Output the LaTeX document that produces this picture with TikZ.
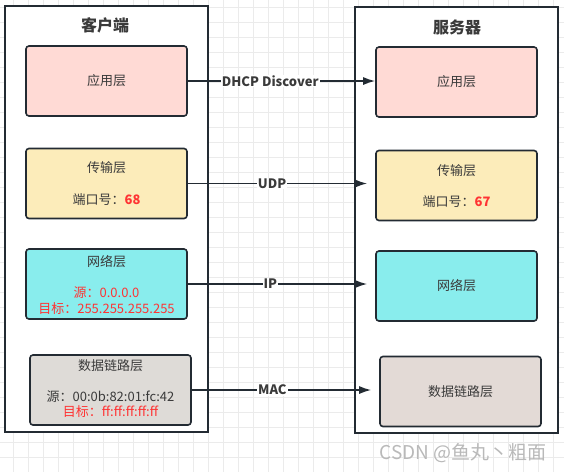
\documentclass[tikz,border=0pt]{standalone}
\usepackage{fontspec}
\setmainfont{Noto Sans CJK SC}
\usepackage{tikz}
\usetikzlibrary{arrows.meta}
\definecolor{edge}{HTML}{232B33}
\definecolor{txt}{HTML}{3A3A3A}
\definecolor{appfill}{HTML}{FFDAD5}
\definecolor{tranfill}{HTML}{FCECBA}
\definecolor{netfill}{HTML}{89EDED}
\definecolor{linkfill}{HTML}{DEDBD7}
\definecolor{slinkfill}{HTML}{E3DAD6}
\definecolor{hot}{HTML}{FF3333}
\definecolor{gridline}{HTML}{EBEBEB}

\begin{document}
\begin{tikzpicture}[x=1pt,y=-1pt,
    side/.style={draw=edge,line width=1.8pt,fill=white,minimum width=203pt,minimum height=426pt,inner sep=0pt},
    layer/.style={draw=edge,line width=1.6pt,rounded corners=3pt,minimum width=161pt,minimum height=70pt,inner sep=0pt},
    word/.style={text=txt,font=\fontsize{13}{15}\selectfont,inner sep=0pt},
    head/.style={text=txt,font=\fontsize{16}{18}\selectfont\bfseries,inner sep=0pt},
    msg/.style={fill=white,inner sep=1pt,text=txt,font=\fontsize{13}{15}\selectfont\bfseries},
    flow/.style={draw=edge,line width=1.6pt,-{Latex[length=12pt,width=8pt]}}]
                      \useasboundingbox (0,0) rectangle (564,472);
                      \fill[white] (0,0) rectangle (564,472);
                      \foreach \x in {13.3,28.3,...,563} \draw[gridline] (\x,0)--(\x,472);
                      \foreach \y in {7.3,22.3,...,471} \draw[gridline] (0,\y)--(564,\y);
                      % client side
                      \node[side](client)at(106.5,219){};
                      \node[head](ctitle)at(105,25){客户端};
                      \node[layer,fill=appfill](capp)at(106.5,81){};
                      \node[word](capptxt)at(capp){应用层};
                      \node[layer,fill=tranfill](ctran)at(106.5,183.5){};
                      \node[word](ctrantxt)at(106.5,168){传输层};
                      \node[word](cport)at(106.5,200){端口号：\textcolor{hot}{\bfseries 68}};
                      \node[layer,fill=netfill](cnet)at(106.5,284){};
                      \node[word](cnettxt)at(106.5,262){网络层};
                      \node[word,text=hot](csrcip)at(106.5,293){源：0.0.0.0};
                      \node[word,text=hot](cdstip)at(106.5,309){目标：255.255.255.255};
                      \node[layer,fill=linkfill](clink)at(110.5,390){};
                      \node[word](clinktxt)at(110.5,366){数据链路层};
                      \node[word](csrcmac)at(110.5,397){源：00:0b:82:01:fc:42};
                      \node[word,text=hot](cdstmac)at(110.5,412){目标：ff:ff:ff:ff:ff};
                      % server side
                      \node[side](server)at(456.5,220){};
                      \node[head](stitle)at(457,27){服务器};
                      \node[layer,fill=appfill](sapp)at(456.5,82){};
                      \node[word](sapptxt)at(sapp){应用层};
                      \node[layer,fill=tranfill](stran)at(456.5,185.5){};
                      \node[word](strantxt)at(456.5,171){传输层};
                      \node[word](sport)at(456.5,202){端口号：\textcolor{hot}{\bfseries 67}};
                      \node[layer,fill=netfill](snet)at(456.5,286){};
                      \node[word](snettxt)at(snet){网络层};
                      \node[layer,fill=slinkfill](slink)at(460.5,391.5){};
                      \node[word](slinktxt)at(slink){数据链路层};
                      % messages
                      \draw[flow](capp.east)--node[msg,pos=.44](mapp){DHCP Discover}(capp.east-|sapp.west);
                      \draw[flow,shorten >=8pt](ctran.east)--node[msg,pos=.45](mtran){UDP}(ctran.east-|stran.west);
                      \draw[flow,shorten >=8pt](cnet.east)--node[msg,pos=.44](mnet){IP}(cnet.east-|snet.west);
                      \draw[flow,shorten >=8pt](clink.east)--node[msg,pos=.43](mlink){MAC}(clink.east-|slink.west);
                      \node[text=gray!55,font=\fontsize{19}{21}\selectfont,inner sep=0pt](mark)at(463,453){CSDN @鱼丸丶粗面};
                  \end{tikzpicture}
\end{document}
